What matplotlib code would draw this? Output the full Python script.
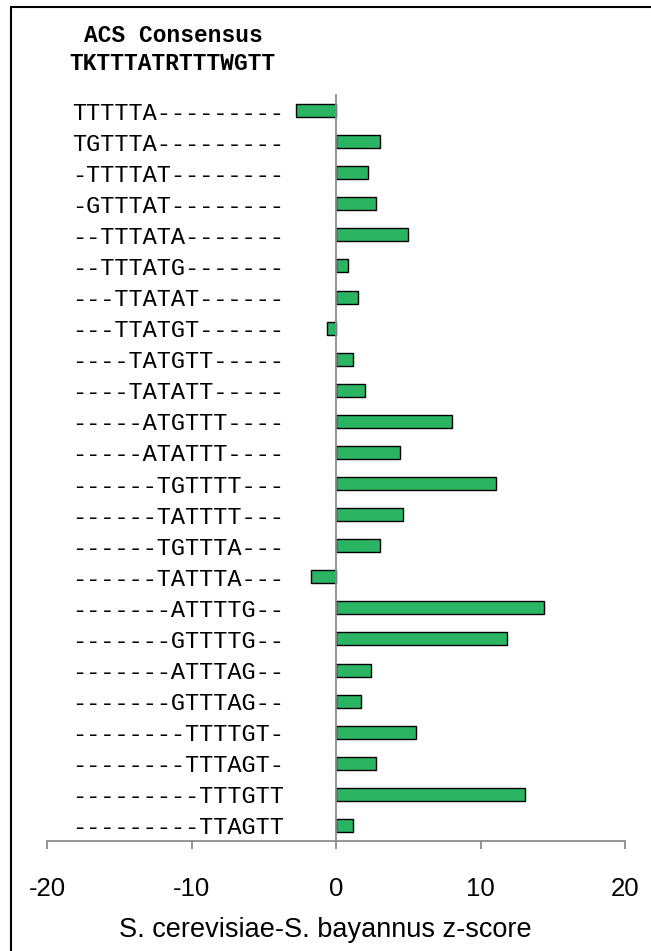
import matplotlib
matplotlib.use("Agg")
import matplotlib.pyplot as plt
from matplotlib import transforms
from matplotlib.patches import Rectangle

# 6-mer windows along the ACS consensus and their z-scores
motifs = ["TTTTTA---------", "TGTTTA---------", "-TTTTAT--------", "-GTTTAT--------",
          "--TTTATA-------", "--TTTATG-------", "---TTATAT------", "---TTATGT------",
          "----TATGTT-----", "----TATATT-----", "-----ATGTTT----", "-----ATATTT----",
          "------TGTTTT---", "------TATTTT---", "------TGTTTA---", "------TATTTA---",
          "-------ATTTTG--", "-------GTTTTG--", "-------ATTTAG--", "-------GTTTAG--",
          "--------TTTTGT-", "--------TTTAGT-", "---------TTTGTT", "---------TTAGTT"]
zscores = [-2.8, 3.05, 2.2, 2.8, 4.95, 0.8, 1.5, -0.65,
           1.15, 2.0, 8.05, 4.45, 11.1, 4.65, 3.05, -1.75,
           14.4, 11.8, 2.4, 1.75, 5.55, 2.75, 13.1, 1.2]
xticks = [-20, -10, 0, 10, 20]

W, H = 651, 951
fig = plt.figure(figsize=(W / 100, H / 100), dpi=100)
ax = fig.add_axes([47 / W, 1 - 841 / H, 578 / W, (841 - 95) / H])

rows = list(range(len(motifs)))
ax.barh(rows, zscores, height=0.42, color="#2bb462", edgecolor="black",
        linewidth=1.0, zorder=2)

ax.set_xlim(-20, 20)
ax.set_ylim(len(motifs) - 0.5, -0.5)

grey = "#8c8c8c"
for s in ["top", "right"]:
    ax.spines[s].set_visible(False)
ax.spines["left"].set_position(("data", 0))
ax.spines["left"].set_color(grey)
ax.spines["left"].set_linewidth(1.3)
ax.spines["left"].set_zorder(3)
ax.spines["bottom"].set_color(grey)
ax.spines["bottom"].set_linewidth(1.3)
ax.set_yticks([])

ax.set_xticks(xticks)
ax.set_xticklabels([str(t) for t in xticks], family="Liberation Sans", fontsize=18.5)
ax.tick_params(axis="x", direction="out", length=6, width=1.3, color=grey, pad=20)

# sequence labels, right-aligned left of the zero line
tr = transforms.blended_transform_factory(fig.transFigure, ax.transData)
for r, m in zip(rows, motifs):
    ax.text(284 / W, r, m, transform=tr, ha="right", va="center_baseline",
            family="Liberation Mono", fontsize=17)

fig.text(173 / W, 1 - 33 / H, "ACS Consensus", ha="center", va="center_baseline",
         family="Liberation Mono", fontsize=16.5, fontweight="bold")
fig.text(172 / W, 1 - 61 / H, "TKTTTATRTTTWGTT", ha="center", va="center_baseline",
         family="Liberation Mono", fontsize=16.5, fontweight="bold")

fig.text(325 / W, 1 - 927 / H, "S. cerevisiae-S. bayannus z-score", ha="center",
         va="center_baseline", family="Liberation Sans", fontsize=19.5)

# frame around the panel (open at the right and bottom edges)
fig.patches.append(Rectangle((11, -20), W + 20, H - 7 + 20, transform=None,
                             fill=False, edgecolor="black", linewidth=1.5))

fig.savefig("out.png", dpi=100)
